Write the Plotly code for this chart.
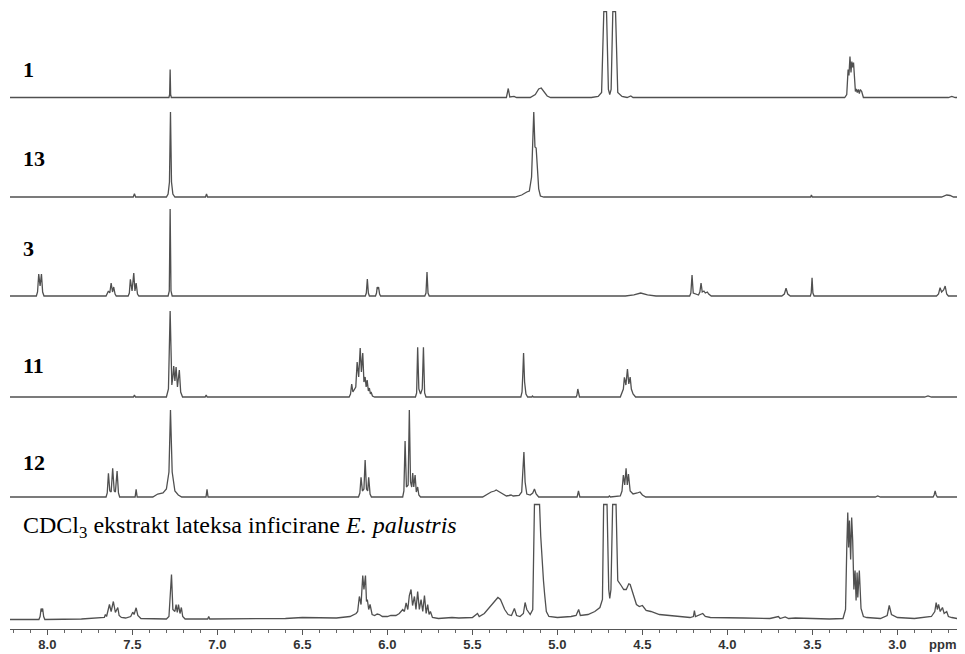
import plotly.graph_objects as go

# ---------------- data (ppm, intensity) ----------------
spectrum_labels = ["1", "13", "3", "11", "12"]
extract_label = "CDCl<sub>3</sub> ekstrakt lateksa inficirane <i>E. palustris</i>"

spec_1 = [
    (8.22, 0), (7.285, 0), (7.281, 3), (7.278, 28), (7.275, 3), (7.271, 0),
    (5.30, 0), (5.289, 9), (5.28, 0.5), (5.255, 1.2), (5.24, 0),
    (5.16, 0), (5.13, 3), (5.11, 8.5), (5.095, 9.5), (5.08, 6), (5.06, 1.5), (5.04, 0),
    (4.80, 0), (4.76, 1), (4.74, 5), (4.727, 86), (4.711, 86), (4.700, 8), (4.692, 3),
    (4.684, 8), (4.674, 86), (4.658, 86), (4.645, 5), (4.62, 1), (4.59, 0),
    (4.568, 1.5), (4.555, 0),
    (3.31, 0), (3.298, 3), (3.29, 28), (3.285, 22), (3.279, 41), (3.273, 25), (3.268, 36),
    (3.263, 30), (3.258, 35), (3.252, 12), (3.247, 6), (3.242, 8.5), (3.236, 5), (3.23, 8),
    (3.224, 4), (3.218, 8), (3.21, 6), (3.20, 0),
    (2.70, 0), (2.68, 1), (2.66, 0), (2.62, 0),
]

spec_13 = [
    (8.22, 0), (7.495, 0), (7.488, 3.3), (7.481, 0), (7.30, 0), (7.29, 3), (7.282, 15),
    (7.276, 85), (7.270, 15), (7.262, 3), (7.25, 0), (7.07, 0), (7.064, 3), (7.058, 0),
    (5.25, 0), (5.21, 2), (5.18, 5), (5.165, 6), (5.152, 20), (5.145, 60), (5.139, 85),
    (5.132, 50), (5.125, 49), (5.118, 30), (5.11, 8), (5.10, 1), (5.08, 0),
    (3.51, 0), (3.506, 2), (3.50, 0), (2.74, 0), (2.71, 2), (2.69, 1.5), (2.67, 0), (2.62, 0),
]

spec_3 = [
    (8.22, 0), (8.065, 0), (8.058, 4), (8.051, 22), (8.043, 10), (8.035, 22), (8.028, 4), (8.02, 0),
    (7.655, 0), (7.648, 2), (7.641, 5), (7.633, 3), (7.625, 13), (7.617, 4), (7.61, 9), (7.602, 2), (7.595, 0),
    (7.525, 0), (7.518, 3), (7.512, 16.7), (7.502, 5), (7.492, 23), (7.485, 5), (7.478, 13), (7.47, 2), (7.462, 0),
    (7.29, 0), (7.283, 5), (7.278, 87), (7.273, 5), (7.266, 0),
    (6.13, 0), (6.124, 3), (6.118, 17), (6.112, 3), (6.106, 0),
    (6.07, 0), (6.064, 3), (6.06, 9), (6.056, 7), (6.052, 9), (6.046, 2), (6.04, 0),
    (5.78, 0), (5.773, 3), (5.767, 24), (5.761, 3), (5.754, 0),
    (4.60, 0), (4.55, 1.2), (4.51, 3), (4.47, 1.2), (4.42, 0),
    (4.222, 0), (4.215, 3), (4.208, 21), (4.201, 3), (4.17, 1), (4.162, 4), (4.155, 13), (4.148, 4),
    (4.138, 5), (4.13, 3), (4.118, 4), (4.11, 2), (4.095, 0),
    (3.68, 0), (3.665, 2), (3.655, 7.7), (3.645, 2), (3.63, 0),
    (3.512, 0), (3.507, 3), (3.502, 18.3), (3.497, 3), (3.49, 0),
    (2.77, 0), (2.758, 2), (2.749, 8.3), (2.74, 4), (2.728, 6), (2.719, 10), (2.71, 2), (2.70, 0), (2.62, 0),
]

spec_11 = [
    (8.22, 0), (7.494, 0), (7.488, 2), (7.482, 0),
    (7.30, 0), (7.288, 8), (7.278, 86), (7.268, 12), (7.262, 20), (7.257, 31), (7.25, 16), (7.243, 30),
    (7.235, 10), (7.224, 27), (7.216, 5), (7.205, 0),
    (7.072, 0), (7.066, 2), (7.06, 0),
    (6.225, 0), (6.217, 3), (6.21, 13), (6.203, 5), (6.194, 7), (6.186, 10), (6.178, 35), (6.169, 20),
    (6.16, 49), (6.153, 25), (6.145, 44), (6.138, 15), (6.131, 20), (6.125, 10), (6.119, 17), (6.112, 6),
    (6.106, 9), (6.10, 3), (6.096, 5), (6.088, 1), (6.075, 0),
    (5.835, 0), (5.828, 4), (5.822, 49.7), (5.815, 8), (5.805, 3), (5.795, 8), (5.788, 49.7), (5.781, 4), (5.773, 0),
    (5.215, 0), (5.208, 5), (5.203, 25), (5.199, 44), (5.193, 15), (5.185, 3), (5.175, 0),
    (5.15, 0), (5.147, 1), (5.14, 0),
    (4.89, 0), (4.885, 2), (4.88, 8), (4.875, 2), (4.87, 0),
    (4.63, 0), (4.62, 4), (4.612, 8), (4.606, 19.7), (4.597, 12), (4.588, 28), (4.58, 13), (4.572, 20),
    (4.565, 8), (4.555, 3), (4.54, 0),
    (2.84, 0), (2.82, 1), (2.80, 0), (2.62, 0),
]

spec_12 = [
    (8.22, 0), (7.655, 0), (7.648, 4), (7.641, 23.7), (7.633, 6), (7.625, 5), (7.616, 28.7), (7.607, 6),
    (7.60, 5), (7.59, 26), (7.582, 4), (7.575, 0),
    (7.484, 0), (7.478, 7.7), (7.472, 0),
    (7.38, 0), (7.351, 3), (7.32, 4), (7.30, 8), (7.285, 25), (7.276, 87), (7.266, 25), (7.25, 6), (7.23, 2), (7.21, 0),
    (7.067, 0), (7.061, 7.7), (7.055, 0),
    (6.17, 0), (6.162, 4), (6.155, 19.7), (6.147, 6), (6.138, 8), (6.131, 37), (6.123, 8), (6.116, 6),
    (6.11, 19.7), (6.102, 3), (6.094, 0),
    (5.91, 0), (5.903, 6), (5.896, 56), (5.888, 10), (5.878, 12), (5.871, 87), (5.864, 15), (5.857, 10),
    (5.851, 24), (5.845, 10), (5.837, 22), (5.83, 5), (5.822, 10), (5.815, 2), (5.805, 0),
    (5.44, 0), (5.42, 2), (5.39, 5), (5.37, 6), (5.36, 7), (5.345, 5.5), (5.32, 2.5), (5.30, 1),
    (5.285, 1.5), (5.273, 2), (5.26, 1), (5.225, 1.5), (5.21, 5), (5.203, 27), (5.197, 45), (5.19, 15),
    (5.18, 3), (5.16, 2), (5.145, 4), (5.135, 8), (5.125, 3), (5.11, 0),
    (4.884, 0), (4.876, 6), (4.868, 0),
    (4.70, 0), (4.694, 1), (4.688, 0),
    (4.63, 1), (4.62, 6), (4.612, 22), (4.604, 12), (4.596, 28.7), (4.589, 12), (4.582, 23), (4.572, 6),
    (4.555, 3), (4.53, 4), (4.514, 5), (4.50, 2), (4.48, 0),
    (3.13, 0), (3.116, 1), (3.10, 0),
    (2.79, 0), (2.784, 2), (2.778, 6), (2.772, 2), (2.765, 0), (2.62, 0),
]

spec_extract = [
    (8.22, 0), (8.05, 0), (8.043, 3), (8.037, 11), (8.033, 8), (8.028, 11), (8.022, 3), (8.015, 0),
    (7.80, 0.5), (7.68, 1.5), (7.665, 2), (7.659, 5), (7.652, 3), (7.635, 15), (7.625, 8), (7.612, 18),
    (7.60, 7), (7.586, 12), (7.578, 4), (7.565, 2), (7.54, 1.5), (7.51, 3), (7.498, 7.3), (7.49, 5),
    (7.478, 11.7), (7.468, 4), (7.45, 1), (7.30, 0.5),
    (7.285, 3), (7.27, 45), (7.262, 10), (7.25, 8), (7.243, 15), (7.236, 7), (7.229, 15), (7.22, 6),
    (7.212, 12), (7.204, 3), (7.19, 0.5),
    (7.057, 0.5), (7.051, 3), (7.045, 0.5),
    (6.60, 1), (6.50, 2), (6.42, 1.5), (6.30, 1.5), (6.22, 3), (6.20, 5), (6.184, 6), (6.175, 8),
    (6.165, 23), (6.155, 15), (6.145, 44), (6.138, 30), (6.129, 44), (6.123, 18), (6.118, 20), (6.11, 10),
    (6.102, 15), (6.09, 5), (6.075, 4), (6.06, 5.5), (6.047, 5), (6.03, 3), (6.00, 3), (5.98, 4),
    (5.95, 4), (5.93, 6), (5.91, 10), (5.90, 8), (5.89, 16.7), (5.88, 10), (5.871, 24), (5.861, 30),
    (5.852, 14), (5.841, 23), (5.832, 10), (5.822, 28), (5.812, 10), (5.802, 20), (5.792, 8), (5.782, 24),
    (5.772, 6), (5.763, 15), (5.755, 5), (5.747, 8), (5.735, 2), (5.70, 1), (5.62, 2), (5.58, 1.5),
    (5.50, 2), (5.47, 6), (5.46, 3), (5.43, 6), (5.40, 12), (5.37, 17), (5.35, 22), (5.335, 20),
    (5.31, 10), (5.29, 5), (5.27, 4), (5.253, 11), (5.24, 4), (5.22, 3), (5.20, 6), (5.19, 17),
    (5.18, 10), (5.16, 5), (5.145, 10), (5.135, 115), (5.105, 115), (5.098, 83), (5.09, 56), (5.082, 39),
    (5.075, 25), (5.065, 8), (5.05, 3), (5.00, 2), (4.92, 3), (4.89, 4), (4.875, 10), (4.865, 4),
    (4.82, 5), (4.78, 8), (4.75, 12), (4.735, 20), (4.728, 115), (4.708, 115), (4.698, 30), (4.692, 21),
    (4.685, 30), (4.675, 115), (4.655, 115), (4.645, 39), (4.625, 34), (4.61, 30), (4.595, 30),
    (4.58, 35.7), (4.572, 35), (4.557, 26), (4.535, 15), (4.518, 13), (4.50, 14), (4.478, 9), (4.45, 8),
    (4.40, 5), (4.30, 3), (4.22, 2), (4.20, 3), (4.194, 9), (4.188, 3), (4.15, 5), (4.145, 6),
    (4.13, 3), (4.10, 2), (3.90, 1.5), (3.75, 1), (3.70, 3), (3.69, 1), (3.66, 2.5), (3.64, 1),
    (3.60, 1.5), (3.40, 0.5), (3.32, 1), (3.305, 10), (3.298, 70), (3.292, 107), (3.287, 72),
    (3.282, 99), (3.275, 60), (3.269, 102), (3.263, 79), (3.256, 30), (3.249, 49), (3.243, 19),
    (3.237, 47), (3.233, 22), (3.224, 49), (3.214, 11), (3.20, 3), (3.18, 2), (3.10, 1), (3.06, 4),
    (3.048, 14), (3.035, 5), (3.00, 2), (2.90, 1), (2.80, 3), (2.78, 8), (2.772, 17), (2.765, 10),
    (2.758, 15), (2.748, 8), (2.735, 12), (2.725, 6), (2.71, 8), (2.70, 3), (2.68, 2), (2.65, 1), (2.62, 1),
]

x_range = [8.22, 2.62]

# ---------------- layout helpers ----------------
# the page body has an 8 px default margin, so the figure is drawn 8 px smaller
W, H = 957, 646
M_L, M_R, M_T, M_B = 2, 3, 3, 25
PLOT_TOP, PLOT_BOT = M_T, H - M_B
PLOT_H = PLOT_BOT - PLOT_TOP

spectra = [spec_1, spec_13, spec_3, spec_11, spec_12, spec_extract]
baselines_px = [89.5, 189, 288, 389, 489, 611.5]

line_color = "#505050"
fig = go.Figure()

axis_names = ["y2", "y3", "y4", "y5", "y6", "y"]
for spec, b, ax in zip(spectra, baselines_px, axis_names):
    pts = sorted(spec, key=lambda p: -p[0])
    fig.add_trace(go.Scatter(
        x=[p[0] for p in pts], y=[p[1] for p in pts],
        mode="lines", line=dict(color=line_color, width=1.3),
        xaxis="x", yaxis=ax, showlegend=False, hoverinfo="skip",
    ))
    key = "yaxis" if ax == "y" else "yaxis" + ax[1:]
    rng = [-(PLOT_BOT - b), (b - PLOT_TOP)]
    cfg = dict(range=rng, visible=False, showgrid=False, zeroline=False, fixedrange=True)
    if ax != "y":
        cfg.update(overlaying="y")
    else:
        cfg.update(domain=[0, 1])
    fig.layout[key] = cfg

fig.update_layout(
    width=W, height=H,
    margin=dict(l=M_L, r=M_R, t=M_T, b=M_B),
    paper_bgcolor="white", plot_bgcolor="white",
    xaxis=dict(
        range=x_range, autorange=False,
        showline=True, linecolor="#555", linewidth=1.3,
        ticks="outside", ticklen=5, tickwidth=1.3, tickcolor="#555",
        tick0=0, dtick=0.5, tickformat=".1f",
        ticklabelstandoff=-2,
        tickfont=dict(family="Liberation Sans, Arial, sans-serif", size=13, color="#333", weight="bold"),
        minor=dict(ticks="outside", ticklen=3, tickwidth=1, tickcolor="#666", dtick=0.1, tick0=0),
        showgrid=False, zeroline=False, anchor="y",
    ),
)

def py(pix):
    return (PLOT_BOT - pix) / PLOT_H

def px(pix):
    return (pix - M_L) / (W - M_L - M_R)

label_y_px = [61, 150, 240, 357, 454]
for t, ypix in zip(spectrum_labels, label_y_px):
    fig.add_annotation(
        text="<b>" + t + "</b>", xref="paper", yref="paper", x=px(13), y=py(ypix),
        xanchor="left", yanchor="middle", showarrow=False,
        font=dict(family="Liberation Serif, Times New Roman, serif", size=22, color="black"),
    )

fig.add_annotation(
    text=extract_label, xref="paper", yref="paper", x=px(13), y=py(519),
    xanchor="left", yanchor="middle", showarrow=False,
    font=dict(family="Liberation Serif, Times New Roman, serif", size=24, color="black"),
)

fig.add_annotation(
    text="<b>ppm</b>", xref="paper", yref="paper", x=px(950), y=py(636),
    xanchor="right", yanchor="middle", showarrow=False,
    font=dict(family="Liberation Sans, Arial, sans-serif", size=13, color="#333"),
)

fig.write_html("out.html")
